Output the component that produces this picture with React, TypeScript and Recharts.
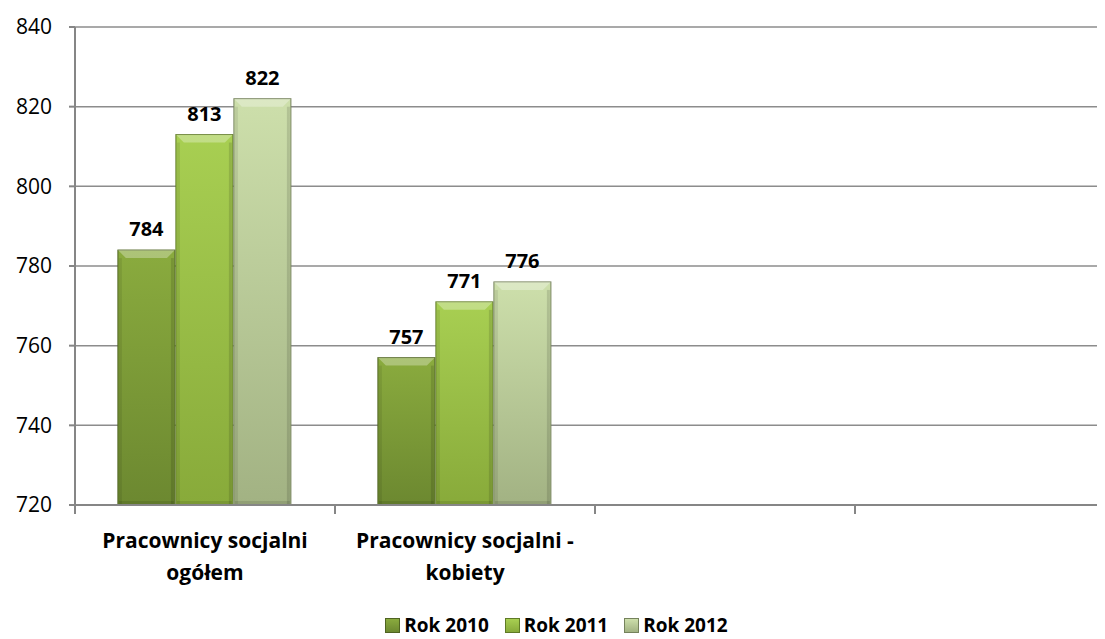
import React from "react";
import { Bar, BarChart, CartesianGrid, LabelList, XAxis, YAxis } from "recharts";

const categories = ["Pracownicy socjalni ogółem", "Pracownicy socjalni - kobiety", "", " "];
const categoryLines = [["Pracownicy socjalni", "ogółem"], ["Pracownicy socjalni -", "kobiety"], [], []];
const rok2010 = [784, 757, null, null];
const rok2011 = [813, 771, null, null];
const rok2012 = [822, 776, null, null];
const yTicks = [720, 740, 760, 780, 800, 820, 840];

const SERIES = [
  { key: "r2010", name: "Rok 2010", top: "#8aab3e", bottom: "#6c8830", edge: "#4f6322" },
  { key: "r2011", name: "Rok 2011", top: "#a8cf52", bottom: "#88aa3a", edge: "#5f7a26" },
  { key: "r2012", name: "Rok 2012", top: "#cddfab", bottom: "#a2b283", edge: "#75825c" }
];

const data = categories.map((name, i) => ({
  name,
  r2010: rok2010[i],
  r2011: rok2011[i],
  r2012: rok2012[i]
}));

const FONT = "'Open Sans', 'Noto Sans', sans-serif";

function BevelBar(props: any) {
  const { x, y, width, height, seriesKey } = props;
  if (!height || height <= 0) return null;
  const s = SERIES.find((d) => d.key === seriesKey)!;
  const b = Math.min(8, width / 5);
  return (
    <g>
      <rect x={x} y={y} width={width} height={height} fill={`url(#grad-${s.key})`} stroke={s.edge} strokeWidth={1} />
      <polygon
        points={`${x},${y} ${x + width},${y} ${x + width - b},${y + b} ${x + b},${y + b}`}
        fill="#ffffff"
        opacity={0.3}
      />
      <rect x={x + 1} y={y + b} width={3} height={height - b - 1} fill="#000" opacity={0.08} />
      <rect x={x + width - 4} y={y + b} width={3} height={height - b - 1} fill="#000" opacity={0.12} />
      <rect x={x + 1} y={y + height - 4} width={width - 2} height={3} fill="#000" opacity={0.1} />
    </g>
  );
}

function CategoryTick(props: any) {
  const { x, y, payload, index } = props;
  const lines = categoryLines[index] ?? [];
  const off = payload?.offset ?? 0;
  return (
    <g>
      <line x1={x - off} x2={x - off} y1={y - 8} y2={y + 1} stroke="#868686" strokeWidth={2} />
      {lines.map((line: string, i: number) => (
        <text
          key={i}
          x={x}
          y={y + 35 + i * 32}
          textAnchor="middle"
          fontFamily={FONT}
          fontWeight={700}
          fontSize={21}
          fill="#000"
        >
          {line}
        </text>
      ))}
    </g>
  );
}

export default function App() {
  return (
    <div style={{ position: "relative", width: 1097, height: 631, overflow: "hidden" }}>
      <BarChart
        width={1110}
        height={580}
        data={data}
        margin={{ top: 19, right: 3, left: 0, bottom: 0 }}
        barCategoryGap="16.5%"
        barGap={1}
      >
        <defs>
          {SERIES.map((s) => (
            <linearGradient key={s.key} id={`grad-${s.key}`} x1="0" y1="0" x2="0" y2="1">
              <stop offset="0%" stopColor={s.top} />
              <stop offset="100%" stopColor={s.bottom} />
            </linearGradient>
          ))}
        </defs>
        <CartesianGrid vertical={false} stroke="#8c8c8c" strokeWidth={1.5} />
        <XAxis
          dataKey="name"
          height={83}
          axisLine={{ stroke: "#868686", strokeWidth: 2 }}
          tickLine={false}
          interval={0}
          tick={<CategoryTick />}
        />
        <YAxis
          domain={[720, 840]}
          ticks={yTicks}
          width={67}
          axisLine={{ stroke: "#868686", strokeWidth: 2 }}
          tickLine={{ stroke: "#868686", strokeWidth: 2 }}
          tickSize={6}
          tick={{ fill: "#000", fontSize: 21, fontFamily: FONT }}
          tickMargin={17}
        />
        {SERIES.map((s) => (
          <Bar
            key={s.key}
            dataKey={s.key}
            name={s.name}
            isAnimationActive={false}
            shape={(p: any) => <BevelBar {...p} seriesKey={s.key} />}
          >
            <LabelList
              dataKey={s.key}
              position="top"
              offset={14}
              fill="#000"
              fontSize={20}
              fontWeight={700}
              fontFamily={FONT}
            />
          </Bar>
        ))}
      </BarChart>
      <div
        style={{
          position: "absolute",
          top: 607,
          left: 0,
          width: 1097,
          height: 21,
          display: "flex",
          justifyContent: "center",
          gap: 16,
          fontFamily: FONT,
          fontWeight: 700,
          fontSize: 19,
          lineHeight: "21px"
        }}
      >
        {SERIES.map((s) => (
          <div key={s.key} style={{ display: "flex", alignItems: "center", gap: 4 }}>
            <span
              style={{
                display: "inline-block",
                width: 13,
                height: 13,
                background: `linear-gradient(${s.top}, ${s.bottom})`,
                border: `1px solid ${s.edge}`
              }}
            />
            <span>{s.name}</span>
          </div>
        ))}
      </div>
    </div>
  );
}
